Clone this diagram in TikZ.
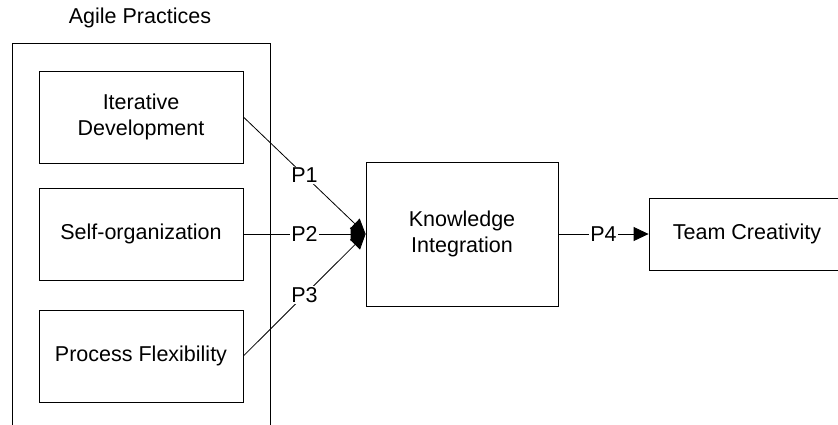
\documentclass[tikz,border=0pt]{standalone}
\usepackage{fontspec}
\setmainfont{Liberation Sans}
\usetikzlibrary{arrows.meta}

\begin{document}
\begin{tikzpicture}[x=1pt,y=-1pt]
\tikzset{every node/.style={font=\fontsize{21.5}{26}\selectfont, align=center},
  box/.style={draw, black, line width=0.8pt, inner sep=0pt},
  plabel/.style={fill=white, inner sep=1.5pt}}
\clip (0,0) rectangle (838,424);
\node (title) at (140,18) {Agile Practices};
\draw [black, line width=0.8pt] (12,430) -- (12,43) -- (270,43) -- (270,430);
\node [box, minimum width=204pt, minimum height=92pt] (iter) at (141,117) {Iterative\\Development};
\node [box, minimum width=204pt, minimum height=92pt] (self) at (141,234) {Self-organization};
\node [box, minimum width=204pt, minimum height=92pt] (flex) at (141,356) {Process Flexibility};
\node [box, minimum width=192pt, minimum height=144pt] (know) at (462,234) {Knowledge\\Integration};
\node [box, minimum width=196pt, minimum height=72pt] (team) at (747,234) {Team Creativity};
\draw [black, line width=0.8pt, -{Triangle[length=15pt,width=14pt]}] (iter.east) -- node [plabel] {P1} (know.west);
\draw [black, line width=0.8pt, -{Triangle[length=15pt,width=14pt]}] (self.east) -- node [plabel] {P2} (know.west);
\draw [black, line width=0.8pt, -{Triangle[length=15pt,width=14pt]}] (flex.east) -- node [plabel] {P3} (know.west);
\draw [black, line width=0.8pt, -{Triangle[length=15pt,width=14pt]}] (know.east) -- node [plabel] {P4} (team.west);
\end{tikzpicture}
\end{document}
